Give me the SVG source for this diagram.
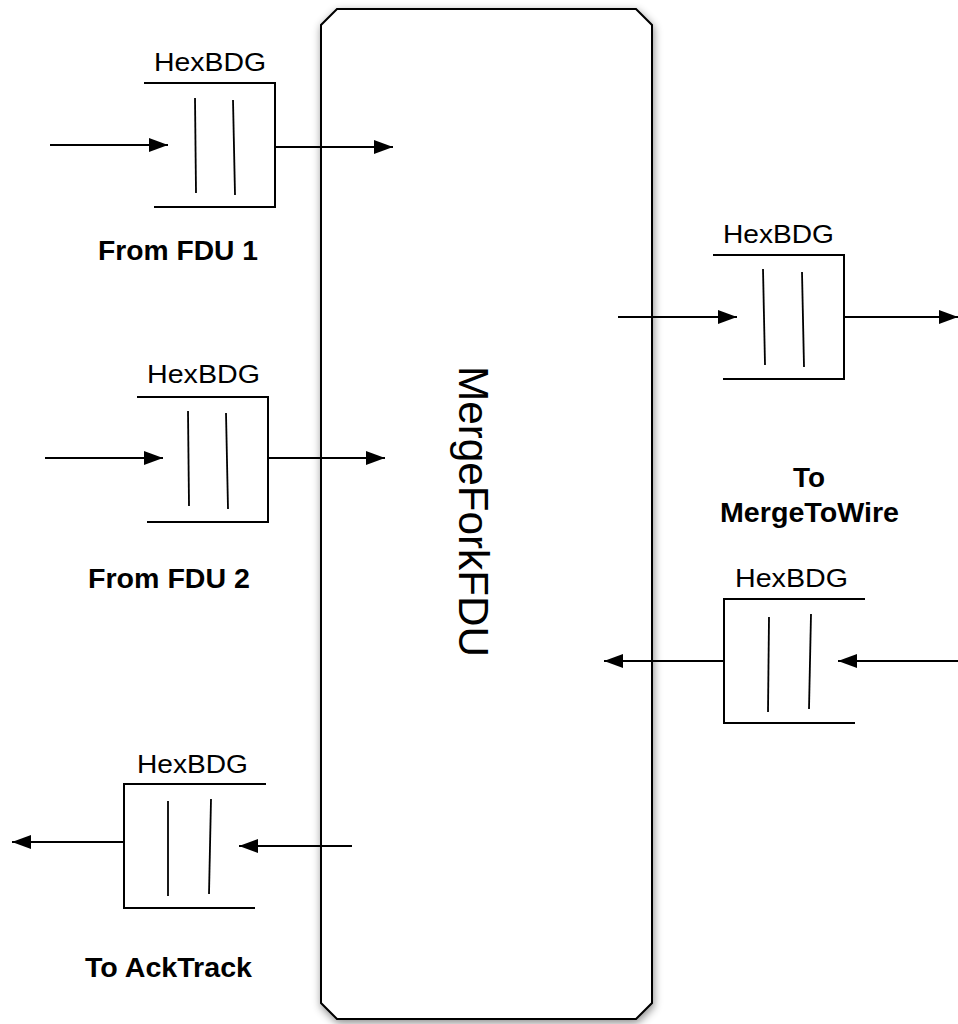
<svg xmlns="http://www.w3.org/2000/svg" width="958" height="1024" viewBox="0 0 958 1024">
  <style>
    .bg { fill: #ffffff; }
    .frame { fill: #ffffff; stroke: #000000; stroke-width: 2; stroke-linejoin: miter; }
    .q { fill: none; stroke: #000000; stroke-width: 2; }
    .bar { fill: none; stroke: #000000; stroke-width: 1.8; }
    .conn { fill: none; stroke: #000000; stroke-width: 1.8; marker-end: url(#arrow); }
    .t { font-family: "Liberation Sans", Arial, Helvetica, sans-serif; font-size: 25px; fill: #000000; }
    .lbl { font-family: "Liberation Sans", Arial, Helvetica, sans-serif; font-size: 27px; font-weight: bold; fill: #000000; }
    .big { font-family: "Liberation Sans", Arial, Helvetica, sans-serif; font-size: 42px; fill: #000000; }
  </style>
  <defs>
    <marker id="arrow" markerUnits="userSpaceOnUse" markerWidth="20" markerHeight="15" refX="19" refY="7.5" orient="auto">
      <path d="M0,0.5 L19,7.5 L0,14.5 z" fill="#000000"/>
    </marker>
    <filter id="shadow" x="-10%" y="-5%" width="120%" height="110%">
      <feDropShadow dx="1" dy="3" stdDeviation="4" flood-color="#000000" flood-opacity="0.45"/>
    </filter>
  </defs>
  <rect class="bg" x="0" y="0" width="958" height="1024"/>

  <g id="MergeForkFDU">
    <polygon class="frame" filter="url(#shadow)" points="337,9 636,9 652,25 652,1003 636,1019 337,1019 321,1003 321,25"/>
    <text class="big" transform="translate(459,366) rotate(90)" x="0" y="0" textLength="291" lengthAdjust="spacingAndGlyphs">MergeForkFDU</text>
  </g>

  <g id="q1">
    <path class="q" d="M144,83 H275 V207 H154"/>
    <line class="bar" x1="195" y1="98" x2="196" y2="193"/>
    <line class="bar" x1="233" y1="100" x2="235" y2="195"/>
    <text class="t" x="154" y="71" textLength="112" lengthAdjust="spacingAndGlyphs">HexBDG</text>
    <text class="lbl" x="98" y="260" textLength="160" lengthAdjust="spacingAndGlyphs">From FDU 1</text>
  </g>

  <g id="q2">
    <path class="q" d="M137,397 H268 V522 H147"/>
    <line class="bar" x1="188" y1="411" x2="189" y2="506"/>
    <line class="bar" x1="226" y1="413" x2="228" y2="509"/>
    <text class="t" x="147" y="383" textLength="113" lengthAdjust="spacingAndGlyphs">HexBDG</text>
    <text class="lbl" x="88" y="588" textLength="162" lengthAdjust="spacingAndGlyphs">From FDU 2</text>
  </g>

  <g id="q3">
    <path class="q" d="M713,255 H844 V379 H723"/>
    <line class="bar" x1="763" y1="269" x2="765" y2="365"/>
    <line class="bar" x1="802" y1="272" x2="804" y2="367"/>
    <text class="t" x="723" y="243" textLength="111" lengthAdjust="spacingAndGlyphs">HexBDG</text>
    <text class="lbl" x="793" y="487" textLength="32" lengthAdjust="spacingAndGlyphs">To</text>
    <text class="lbl" x="720" y="522" textLength="179" lengthAdjust="spacingAndGlyphs">MergeToWire</text>
  </g>

  <g id="q4">
    <path class="q" d="M865,599 H724 V723 H855"/>
    <line class="bar" x1="769" y1="617" x2="768" y2="712"/>
    <line class="bar" x1="811" y1="614" x2="809" y2="709"/>
    <text class="t" x="735" y="587" textLength="113" lengthAdjust="spacingAndGlyphs">HexBDG</text>
  </g>

  <g id="q5">
    <path class="q" d="M266,784 H124 V908 H255"/>
    <line class="bar" x1="168" y1="801" x2="168" y2="896"/>
    <line class="bar" x1="211" y1="799" x2="209" y2="894"/>
    <text class="t" x="137" y="773" textLength="111" lengthAdjust="spacingAndGlyphs">HexBDG</text>
    <text class="lbl" x="85" y="977" textLength="167" lengthAdjust="spacingAndGlyphs">To AckTrack</text>
  </g>

  <g id="connectors">
    <line class="conn" x1="50" y1="145" x2="168" y2="145"/>
    <line class="conn" x1="275" y1="147" x2="393" y2="147"/>
    <line class="conn" x1="45" y1="458" x2="163" y2="458"/>
    <line class="conn" x1="268" y1="458" x2="385" y2="458"/>
    <line class="conn" x1="618" y1="317" x2="737" y2="317"/>
    <line class="conn" x1="844" y1="317" x2="958" y2="317"/>
    <line class="conn" x1="958" y1="661" x2="838" y2="661"/>
    <line class="conn" x1="724" y1="661" x2="604" y2="661"/>
    <line class="conn" x1="352" y1="846" x2="239" y2="846"/>
    <line class="conn" x1="124" y1="842" x2="12" y2="842"/>
  </g>
</svg>
